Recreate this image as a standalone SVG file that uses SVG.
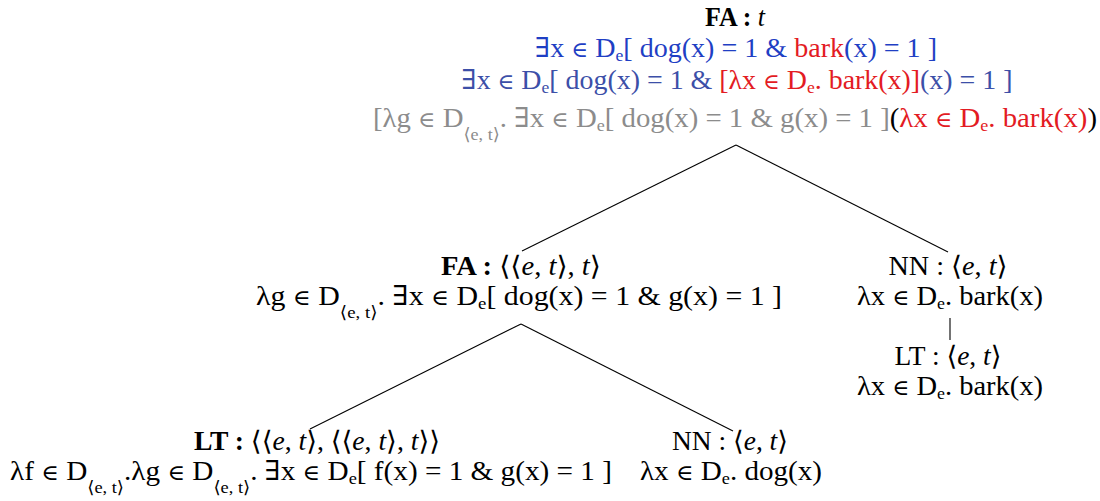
<svg xmlns="http://www.w3.org/2000/svg" width="1100" height="501" viewBox="0 0 1100 501">
<style>
text{font-family:"Liberation Serif","DejaVu Serif",serif;font-size:27px;fill:#000}
.b{font-weight:bold}
.i{font-style:italic}
.el{font-size:22px}
.blue{fill:#1f3fc4}
.blue2{fill:#3c4fa8}
.red{fill:#e31b23}
.gray{fill:#8c8c8c}
.k{fill:#000}
.s{font-size:17px}
.ss{font-size:17px}
line{stroke:#000;stroke-width:1.1}
</style>
<rect width="1100" height="501" fill="#fff"/>
<g id="connectors">
<line x1="736" y1="145" x2="522" y2="251"/>
<line x1="736" y1="145" x2="948" y2="252"/>
<line x1="521" y1="324" x2="310" y2="429"/>
<line x1="521" y1="324" x2="733" y2="431"/>
<line x1="950" y1="318" x2="950" y2="340" stroke="#666"/>
</g>
<g id="root">
<text x="735" y="26" text-anchor="middle" textLength="60" lengthAdjust="spacingAndGlyphs"><tspan class="b">FA :</tspan> <tspan class="i">t</tspan></text>
<text x="736" y="57" text-anchor="middle" textLength="402" lengthAdjust="spacingAndGlyphs" class="blue">∃x <tspan class="el">∈</tspan> D<tspan class="s" dy="4">e</tspan><tspan dy="-4">[ dog(x) = 1 &amp; </tspan><tspan class="red">bark</tspan>(x) = 1 ]</text>
<text x="737" y="89" text-anchor="middle" textLength="551" lengthAdjust="spacingAndGlyphs" class="blue2">∃x <tspan class="el">∈</tspan> D<tspan class="s" dy="4">e</tspan><tspan dy="-4">[ dog(x) = 1 &amp; </tspan><tspan class="red">[λx </tspan><tspan class="red el">∈</tspan><tspan class="red"> D</tspan><tspan class="red s" dy="4">e</tspan><tspan class="red" dy="-4">. bark(x)]</tspan>(x) = 1 ]</text>
<text x="735" y="127" text-anchor="middle" textLength="724" lengthAdjust="spacingAndGlyphs" class="gray">[λg <tspan class="el">∈</tspan> D<tspan class="ss" dy="13">⟨e, t⟩</tspan><tspan dy="-13">. ∃x </tspan><tspan class="el">∈</tspan> D<tspan class="s" dy="4">e</tspan><tspan dy="-4">[ dog(x) = 1 &amp; g(x) = 1 ]</tspan><tspan class="k">(</tspan><tspan class="red">λx </tspan><tspan class="red el">∈</tspan><tspan class="red"> D</tspan><tspan class="red s" dy="4">e</tspan><tspan class="red" dy="-4">. bark(x)</tspan><tspan class="k">)</tspan></text>
</g>
<g id="fa-node">
<text x="521" y="275" text-anchor="middle" textLength="160" lengthAdjust="spacingAndGlyphs"><tspan class="b">FA :</tspan> ⟨⟨<tspan class="i">e</tspan>, <tspan class="i">t</tspan>⟩, <tspan class="i">t</tspan>⟩</text>
<text x="519" y="305" text-anchor="middle" textLength="526" lengthAdjust="spacingAndGlyphs">λg <tspan class="el">∈</tspan> D<tspan class="ss" dy="13">⟨e, t⟩</tspan><tspan dy="-13">. ∃x </tspan><tspan class="el">∈</tspan> D<tspan class="s" dy="4">e</tspan><tspan dy="-4">[ dog(x) = 1 &amp; g(x) = 1 ]</tspan></text>
</g>
<g id="nn-bark">
<text x="948" y="275" text-anchor="middle" textLength="119" lengthAdjust="spacingAndGlyphs">NN : ⟨<tspan class="i">e</tspan>, <tspan class="i">t</tspan>⟩</text>
<text x="950" y="305" text-anchor="middle" textLength="186" lengthAdjust="spacingAndGlyphs">λx <tspan class="el">∈</tspan> D<tspan class="s" dy="4">e</tspan><tspan dy="-4">. bark(x)</tspan></text>
</g>
<g id="lt-bark">
<text x="948" y="365" text-anchor="middle" textLength="107" lengthAdjust="spacingAndGlyphs">LT : ⟨<tspan class="i">e</tspan>, <tspan class="i">t</tspan>⟩</text>
<text x="950" y="395" text-anchor="middle" textLength="186" lengthAdjust="spacingAndGlyphs">λx <tspan class="el">∈</tspan> D<tspan class="s" dy="4">e</tspan><tspan dy="-4">. bark(x)</tspan></text>
</g>
<g id="lt-node">
<text x="317" y="450" text-anchor="middle" textLength="246" lengthAdjust="spacingAndGlyphs"><tspan class="b">LT :</tspan> ⟨⟨<tspan class="i">e</tspan>, <tspan class="i">t</tspan>⟩, ⟨⟨<tspan class="i">e</tspan>, <tspan class="i">t</tspan>⟩, <tspan class="i">t</tspan>⟩⟩</text>
<text x="311" y="480" text-anchor="middle" textLength="602" lengthAdjust="spacingAndGlyphs">λf <tspan class="el">∈</tspan> D<tspan class="ss" dy="13">⟨e, t⟩</tspan><tspan dy="-13">.λg </tspan><tspan class="el">∈</tspan> D<tspan class="ss" dy="13">⟨e, t⟩</tspan><tspan dy="-13">. ∃x </tspan><tspan class="el">∈</tspan> D<tspan class="s" dy="4">e</tspan><tspan dy="-4">[ f(x) = 1 &amp; g(x) = 1 ]</tspan></text>
</g>
<g id="nn-dog">
<text x="730" y="450" text-anchor="middle" textLength="116" lengthAdjust="spacingAndGlyphs">NN : ⟨<tspan class="i">e</tspan>, <tspan class="i">t</tspan>⟩</text>
<text x="731" y="480" text-anchor="middle" textLength="182" lengthAdjust="spacingAndGlyphs">λx <tspan class="el">∈</tspan> D<tspan class="s" dy="4">e</tspan><tspan dy="-4">. dog(x)</tspan></text>
</g>
</svg>
